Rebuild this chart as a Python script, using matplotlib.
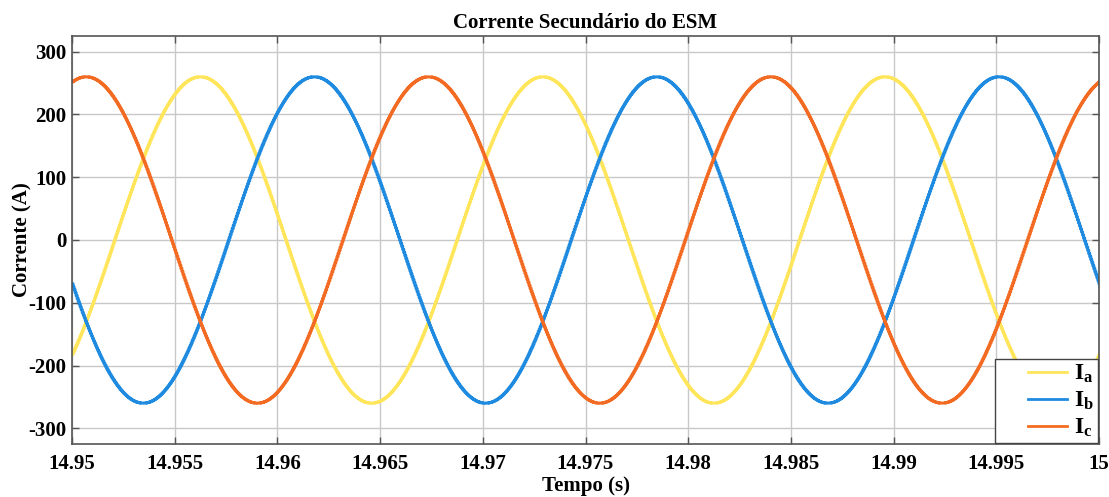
import numpy as np
import matplotlib
matplotlib.use("Agg")
import matplotlib.pyplot as plt

plt.rcParams['font.family'] = ['Liberation Serif', 'DejaVu Serif']
plt.rcParams['font.weight'] = 'bold'
plt.rcParams['axes.unicode_minus'] = False
plt.rcParams['mathtext.fontset'] = 'custom'
plt.rcParams['mathtext.rm'] = 'Liberation Serif:bold'
plt.rcParams['mathtext.it'] = 'Liberation Serif:bold'
plt.rcParams['mathtext.bf'] = 'Liberation Serif:bold'

# Secondary currents of the ESM (three phases)
phase_labels = [r'$\mathrm{I_a}$', r'$\mathrm{I_b}$', r'$\mathrm{I_c}$']
phase_colors = ['#FFE55A', '#1F8BE0', '#F36B22']
peak_amplitude = [260.0, 260.0, 260.0]      # A
grid_frequency = 60.0                        # Hz
first_peak_time = [14.95623, 14.96178, 14.95067]  # s
sample_period = 5e-5                         # s (controller sample time)

t_start, t_end = 14.95, 15.0
x_ticks = [14.95, 14.955, 14.96, 14.965, 14.97, 14.975, 14.98, 14.985, 14.99, 14.995, 15.0]
x_ticklabels = ['14.95', '14.955', '14.96', '14.965', '14.97', '14.975',
                '14.98', '14.985', '14.99', '14.995', '15']
y_ticks = [-300, -200, -100, 0, 100, 200, 300]

t = np.arange(t_start, t_end + sample_period, sample_period)

fig = plt.figure(figsize=(11.09, 4.97), dpi=100)
ax = fig.add_axes([72 / 1109, 1 - 444 / 497, 1027 / 1109, 408 / 497])

for lab, col, amp, tp in zip(phase_labels, phase_colors, peak_amplitude, first_peak_time):
    i = amp * np.cos(2 * np.pi * grid_frequency * (t - tp))
    ax.plot(t, i, color=col, lw=2.2, drawstyle='steps-post', label=lab)

ax.set_xlim(t_start, t_end)
ax.set_ylim(-325, 325)
ax.set_xticks(x_ticks)
ax.set_xticklabels(x_ticklabels)
ax.set_yticks(y_ticks)
ax.grid(True, color='#c8c8c8', lw=1.0)
ax.tick_params(axis='both', direction='in', top=True, right=True, labelsize=15,
               length=5, color='#555555', width=1.0)
ax.tick_params(axis='y', pad=4)
ax.tick_params(axis='x', pad=7)
for s in ax.spines.values():
    s.set_color('#555555')
    s.set_linewidth(1.2)

ax.set_title('Corrente Secundário do ESM', fontsize=15, fontweight='bold', pad=6)
ax.set_xlabel('Tempo (s)', fontsize=15, fontweight='bold', labelpad=1.5)
ax.set_ylabel('Corrente (A)', fontsize=15, fontweight='bold', labelpad=-3)

leg = ax.legend(loc='lower right', fontsize=17, frameon=True, fancybox=False,
                edgecolor='#444444', framealpha=1.0, handlelength=2.9,
                handletextpad=0.3, borderaxespad=0.05, labelspacing=0.2,
                borderpad=0.15)
leg.get_frame().set_linewidth(1.0)
# draw the legend sample lines only over the right part of the handle box
for h in leg.get_lines():
    xd = np.asarray(h.get_xdata(), dtype=float)
    yd = np.asarray(h.get_ydata(), dtype=float)
    x0, x1 = xd.min(), xd.max()
    h.set_data([x0 + 0.42 * (x1 - x0), x1], [yd[0], yd[0]])
    h.set_linewidth(2.0)

fig.savefig('out.png', dpi=100)
